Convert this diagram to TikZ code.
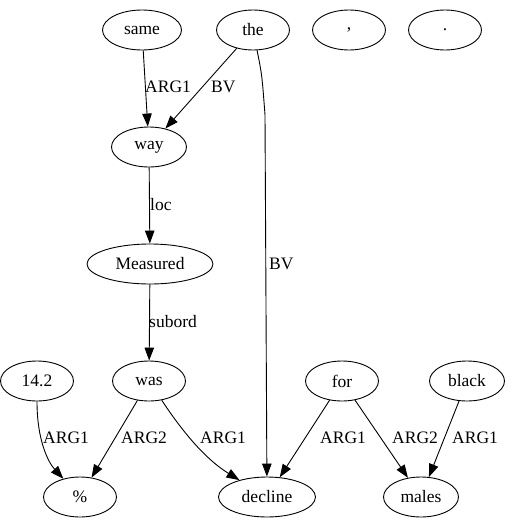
\documentclass[tikz,border=0pt]{standalone}
\usepackage{fontspec}
\setmainfont{Liberation Serif}
\usepackage{tikz}
\usetikzlibrary{arrows.meta,shapes.geometric}

\tikzset{
  tok/.style={draw,ellipse,line width=0.9pt,inner sep=0pt,minimum height=40pt,minimum width=73pt},
  lbl/.style={anchor=west,inner sep=0pt},
  arc/.style={line width=0.9pt,-{Triangle[length=13pt,width=9.5pt]}}
}

\begin{document}
\begin{tikzpicture}[x=1pt,y=-1pt,font=\fontsize{17.5}{20}\selectfont]
\useasboundingbox (0,0) rectangle (512,528);
% top row
\node[tok,minimum width=79pt] (same) at (142,30) {same};
\node[tok] (the) at (253,30) {the};
\node[tok] (comma) at (349,30) {,};
\node[tok] (stop) at (445,30) {.};
% middle
\node[tok,minimum width=75pt] (way) at (149,147) {way};
\node[tok,minimum width=126pt] (measured) at (150,264) {Measured};
\node[tok] (n142) at (37,381) {14.2};
\node[tok] (was) at (149,381) {was};
\node[tok] (for) at (342,381) {for};
\node[tok,minimum width=75pt] (black) at (467,381) {black};
% bottom row
\node[tok] (pct) at (80,497) {\%};
\node[tok,minimum width=97pt] (decline) at (267,497) {decline};
\node[tok,minimum width=75pt] (males) at (421,497) {males};

\coordinate (bvbend) at (265,115);

\draw[arc] (same) -- (way);
\draw[arc] (the) -- (way);
\draw[arc] (the) .. controls (262,75) .. (bvbend) -- (decline);
\draw[arc] (way) -- (measured);
\draw[arc] (measured) -- (was);
\draw[arc] (n142) .. controls (37,440) and (48,462) .. (pct);
\draw[arc] (was) -- (pct);
\draw[arc] (was) .. controls (188,440) and (210,462) .. (decline);
\draw[arc] (for) -- (decline);
\draw[arc] (for) -- (males);
\draw[arc] (black) -- (males);

% edge labels
\node[lbl] (lSame) at (145,87) {ARG1};
\node[lbl] (lTheWay) at (211,87) {BV};
\node[lbl] (lTheDec) at (269,264) {BV};
\node[lbl] (lLoc) at (150,205) {loc};
\node[lbl] (lSub) at (149,322) {subord};
\node[lbl] (lNum) at (43,438) {ARG1};
\node[lbl] (lWasPct) at (121,438) {ARG2};
\node[lbl] (lWasDec) at (200,438) {ARG1};
\node[lbl] (lForDec) at (320,438) {ARG1};
\node[lbl] (lForMal) at (392,438) {ARG2};
\node[lbl] (lBlack) at (452,438) {ARG1};
\end{tikzpicture}
\end{document}
